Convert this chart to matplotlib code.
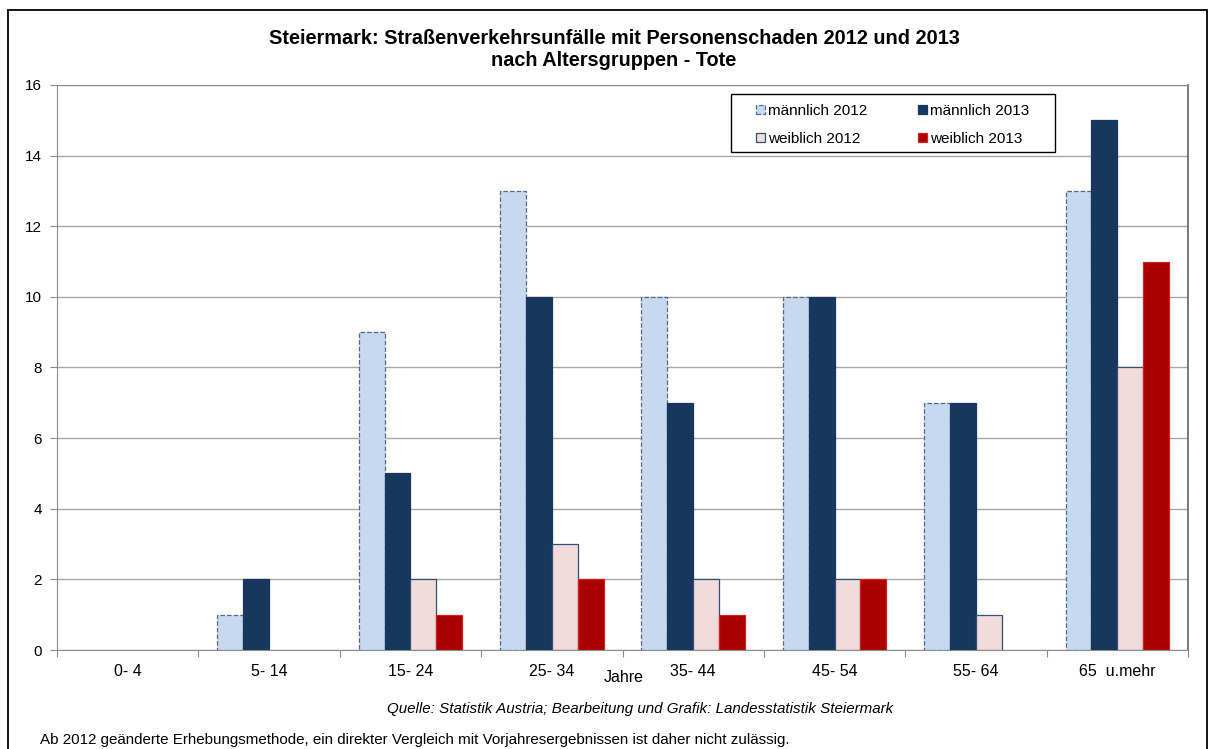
import matplotlib
matplotlib.use("Agg")
import matplotlib.pyplot as plt
import numpy as np
from matplotlib.patches import Rectangle, Patch

plt.rcParams['font.family'] = ['Liberation Sans', 'DejaVu Sans']

categories = ["0- 4", "5- 14", "15- 24", "25- 34", "35- 44", "45- 54", "55- 64", "65  u.mehr"]
maennlich_2012 = [0, 1, 9, 13, 10, 10, 7, 13]
maennlich_2013 = [0, 2, 5, 10, 7, 10, 7, 15]
weiblich_2012 = [0, 0, 2, 3, 2, 2, 1, 8]
weiblich_2013 = [0, 0, 1, 2, 1, 2, 0, 11]
series_labels = ["männlich 2012", "männlich 2013", "weiblich 2012", "weiblich 2013"]
yticks = [0, 2, 4, 6, 8, 10, 12, 14, 16]

W, H = 1214, 749
fig = plt.figure(figsize=(W / 100, H / 100), dpi=100)
ax = fig.add_axes([57 / W, 1 - 650 / H, (1188 - 57) / W, (650 - 85) / H])

# outer frame
fig.patches.append(Rectangle((8 / W, -0.01), (1207 - 8) / W, 1 - 10 / H + 0.01,
                             transform=fig.transFigure, fill=False,
                             edgecolor='black', linewidth=1.3))

x = np.arange(len(categories))
bw = 0.183
fills = ['#C6D9F1', '#17375E', '#F2DCDB', '#AA0000']
edges = ['#4F6A8E', '#17375E', '#2F4F74', '#D42020']
styles = ['--', '-', '-', '-']
data = [maennlich_2012, maennlich_2013, weiblich_2012, weiblich_2013]
handles = []
for i, (vals, fc, ec, ls, lab) in enumerate(zip(data, fills, edges, styles, series_labels)):
    b = ax.bar(x + (i - 1.5) * bw, vals, width=bw, color=fc, edgecolor=ec,
               linewidth=0.9, linestyle=ls, zorder=3)
    for rect, v in zip(b.patches, vals):
        if v == 0:
            rect.set_visible(False)
    handles.append(Patch(facecolor=fc, edgecolor=ec, linewidth=0.9, linestyle=ls, label=lab))

ax.set_xlim(-0.5, len(categories) - 0.5)
ax.set_ylim(0, 16)
ax.set_yticks(yticks)
ax.set_yticklabels([str(v) for v in yticks], fontsize=11)
ax.set_xticks(np.arange(len(categories) + 1) - 0.5, minor=False)
ax.set_xticklabels([])
ax.set_xticks(x, minor=True)
ax.set_xticklabels(categories, minor=True, fontsize=11.5)
ax.tick_params(axis='x', which='minor', length=0, pad=10)
ax.tick_params(axis='x', which='major', length=5, color='#888888', direction='out')
ax.tick_params(axis='y', length=5, color='#888888', pad=6)
ax.grid(axis='y', color='#A6A6A6', linewidth=1.0, zorder=0)
for s in ['left', 'bottom', 'top']:
    ax.spines[s].set_color('#8C8C8C')
ax.spines['right'].set_color('#6E6E6E')
ax.spines['right'].set_linewidth(1.3)

# legend frame drawn separately
fig.patches.append(Rectangle((731 / W, 1 - 152 / H), (1055 - 731) / W, (152 - 94) / H,
                             transform=fig.transFigure, facecolor='white',
                             edgecolor='black', linewidth=1.0, zorder=5))

# row-wise order for a 2-column legend
order = [0, 2, 1, 3]
leg = fig.legend(handles=[handles[k] for k in order],
                 labels=[series_labels[k] for k in order],
                 ncol=2, loc='upper left',
                 bbox_to_anchor=(756 / W, 1 - 104 / H),
                 borderaxespad=0, borderpad=0,
                 fontsize=11, frameon=False,
                 handlelength=0.6, handleheight=0.6, handletextpad=0.2,
                 columnspacing=3.3, labelspacing=0.9)
leg.set_zorder(6)

fig.text(614 / W, 1 - 38 / H, "Steiermark: Straßenverkehrsunfälle mit Personenschaden 2012 und 2013",
         ha='center', va='center', fontsize=14.3, fontweight='bold')
fig.text(614 / W, 1 - 61 / H, "nach Altersgruppen - Tote",
         ha='center', va='center', fontsize=14.3, fontweight='bold')
fig.text(624 / W, 1 - 678 / H, "Jahre", ha='center', va='center', fontsize=11.5)
fig.text(893 / W, 1 - 709 / H,
         "Quelle: Statistik Austria; Bearbeitung und Grafik: Landesstatistik Steiermark",
         ha='right', va='center', fontsize=10.9, style='italic')
fig.text(40 / W, 1 - 740 / H,
         "Ab 2012 geänderte Erhebungsmethode, ein direkter Vergleich mit Vorjahresergebnissen ist daher nicht zulässig.",
         ha='left', va='center', fontsize=10.9)

fig.savefig("out.png", dpi=100)
